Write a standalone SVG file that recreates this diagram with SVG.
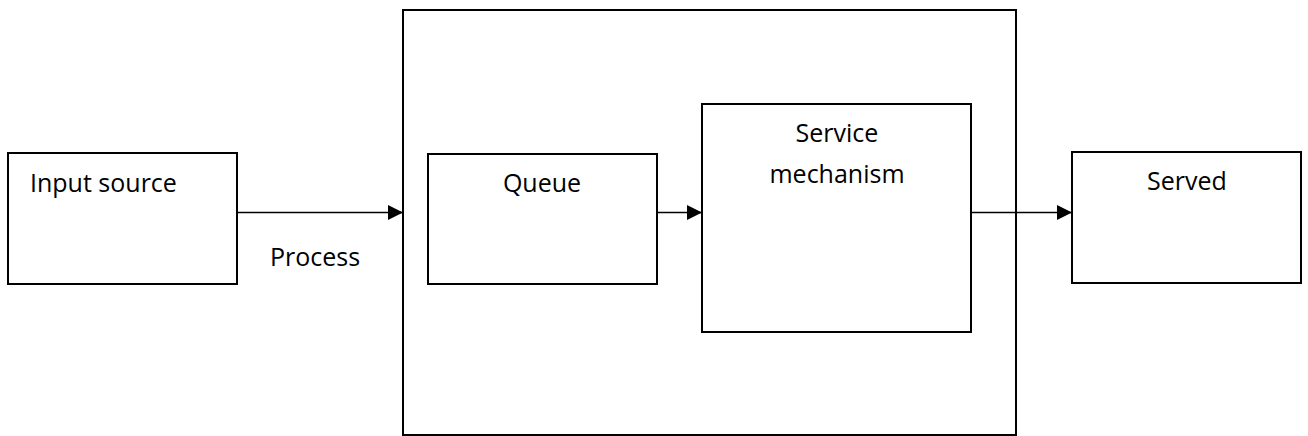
<svg xmlns="http://www.w3.org/2000/svg" width="1308" height="436" viewBox="0 0 1308 436">
<defs>
<style>
.box{fill:#fff;stroke:#000;stroke-width:2}
.lbl{font-family:"Open Sans","Liberation Sans",sans-serif;font-size:25px;fill:#000}
.mid{text-anchor:middle}
.conn{stroke:#000;stroke-width:1.5;fill:none}
</style>
<marker id="arr" markerWidth="16" markerHeight="16" refX="15" refY="7.5" orient="auto" markerUnits="userSpaceOnUse">
<path d="M0,0 L15,7.5 L0,15 Z" fill="#000"/>
</marker>
</defs>
<g id="system"><rect class="box" x="403" y="10" width="613" height="425"/></g>
<g id="input"><rect class="box" x="8" y="153" width="229" height="131"/><text class="lbl" x="30" y="192">Input source</text></g>
<g id="queue"><rect class="box" x="428" y="154" width="229" height="130"/><text class="lbl mid" x="542" y="192">Queue</text></g>
<g id="service"><rect class="box" x="702" y="104" width="269" height="228"/><text class="lbl mid" x="837" y="142">Service</text><text class="lbl mid" x="837" y="183">mechanism</text></g>
<g id="served"><rect class="box" x="1072" y="152" width="229" height="131"/><text class="lbl mid" x="1187" y="190">Served</text></g>
<g id="connectors">
<line class="conn" x1="237" y1="212.5" x2="403" y2="212.5" marker-end="url(#arr)"/>
<line class="conn" x1="657" y1="212.5" x2="702" y2="212.5" marker-end="url(#arr)"/>
<line class="conn" x1="971" y1="212.5" x2="1072" y2="212.5" marker-end="url(#arr)"/>
<text class="lbl" x="270" y="266">Process</text>
</g>
</svg>
